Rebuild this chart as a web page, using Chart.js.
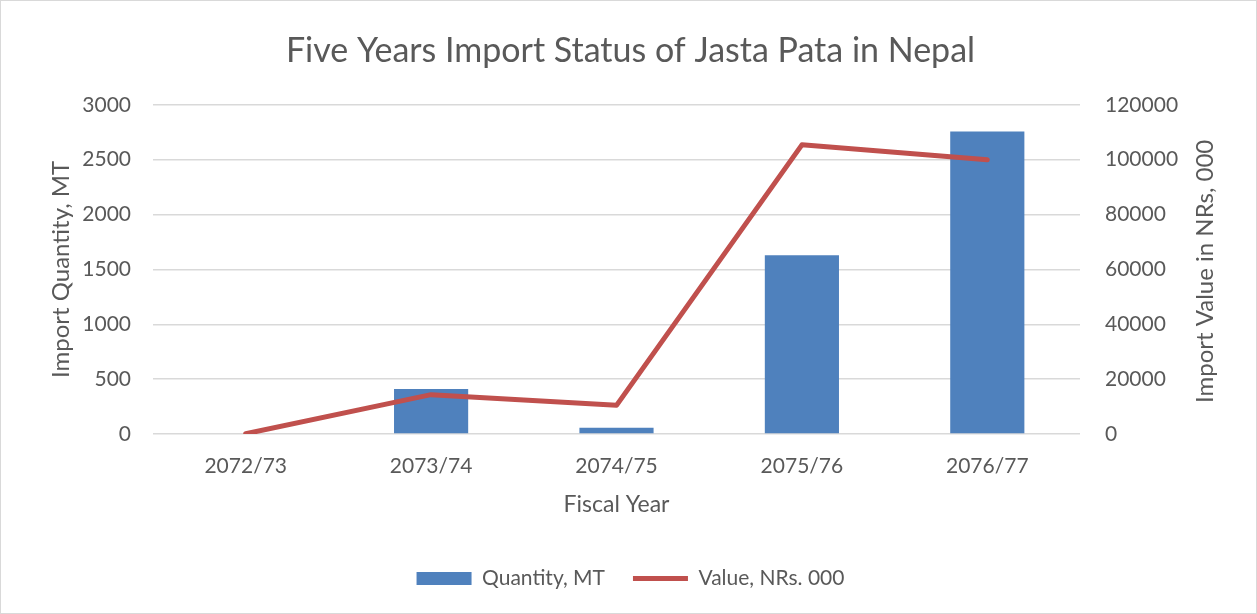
<!DOCTYPE html>
<html>
<head>
<meta charset="utf-8">
<script src="https://cdn.jsdelivr.net/npm/chart.js@4.4.1/dist/chart.umd.min.js"></script>
<style>
  body { margin: 0; background: #fff; }
  #frame { width: 1257px; height: 614px; box-sizing: border-box; border: 1px solid #d9d9d9; }
  canvas { display: block; }
</style>
</head>
<body>
<div id="frame"><canvas id="importChart" width="1255" height="612"></canvas></div>
<script>
// chart data
var fiscalYears = ['2072/73', '2073/74', '2074/75', '2075/76', '2076/77'];
var quantityMT = [0, 410, 58, 1630, 2757];
var valueNRs = [100, 14350, 10450, 105400, 99950];
var quantityTicks = [0, 500, 1000, 1500, 2000, 2500, 3000];
var valueTicks = [0, 20000, 40000, 60000, 80000, 100000, 120000];
var rightTitle = 'Import Value in NRs, 000';

var textColor = '#595959';
var fontFamily = 'Lato, "Open Sans", sans-serif';

// right axis title reads bottom-to-top, like the left one
var rightTitlePlugin = {
    id: 'rightTitle',
    afterDraw: function(chart) {
        var c = chart.ctx;
        var area = chart.chartArea;
        c.save();
        c.translate(1204, (area.top + area.bottom) / 2 + 2);
        c.rotate(-Math.PI / 2);
        c.font = '24px ' + fontFamily;
        c.fillStyle = textColor;
        c.textAlign = 'center';
        c.textBaseline = 'middle';
        c.fillText(rightTitle, 0, 0);
        c.restore();
    }
};

var ctx = document.getElementById('importChart').getContext('2d');

new Chart(ctx, {
    type: 'bar',
    data: {
        labels: fiscalYears,
        datasets: [{
            label: 'Quantity, MT',
            data: quantityMT,
            backgroundColor: '#4f81bd',
            yAxisID: 'y',
            order: 1,
            categoryPercentage: 1.0,
            barPercentage: 0.4,
            pointStyle: 'rect'
        }, {
            type: 'line',
            label: 'Value, NRs. 000',
            data: valueNRs,
            borderColor: '#c0504d',
            backgroundColor: '#c0504d',
            borderWidth: 5,
            borderCapStyle: 'round',
            borderJoinStyle: 'round',
            pointRadius: 0,
            tension: 0,
            yAxisID: 'y1',
            order: 0,
            pointStyle: 'line'
        }]
    },
    options: {
        responsive: false,
        animation: false,
        layout: {
            padding: { left: 30, right: 26, top: 10, bottom: 14 }
        },
        scales: {
            x: {
                grid: { display: false },
                border: { display: false },
                ticks: { color: textColor, font: { family: fontFamily, size: 21 }, padding: 12 },
                title: {
                    display: true,
                    text: 'Fiscal Year',
                    color: textColor,
                    font: { family: fontFamily, size: 23 },
                    padding: { top: 10, bottom: 22 }
                },
                afterFit: function(scale) { scale.height = 106; }
            },
            y: {
                position: 'left',
                min: 0,
                max: 3000,
                afterBuildTicks: function(scale) {
                    scale.ticks = quantityTicks.map(function(v) { return { value: v }; });
                },
                grid: { color: '#d9d9d9', lineWidth: 1.5, drawTicks: false },
                border: { display: false },
                ticks: {
                    color: textColor,
                    font: { family: fontFamily, size: 21 },
                    padding: 22,
                    callback: function(v) { return String(v); }
                },
                title: {
                    display: true,
                    text: 'Import Quantity, MT',
                    color: textColor,
                    font: { family: fontFamily, size: 24 },
                    padding: { top: 16, bottom: 0 }
                },
                afterFit: function(scale) { scale.width = 122; }
            },
            y1: {
                position: 'right',
                min: 0,
                max: 120000,
                afterBuildTicks: function(scale) {
                    scale.ticks = valueTicks.map(function(v) { return { value: v }; });
                },
                grid: { display: false, drawTicks: false },
                border: { display: false },
                ticks: {
                    color: textColor,
                    font: { family: fontFamily, size: 21 },
                    padding: 25,
                    callback: function(v) { return String(v); }
                },
                afterFit: function(scale) { scale.width = 150; }
            }
        },
        plugins: {
            title: {
                display: true,
                text: 'Five Years Import Status of Jasta Pata in Nepal',
                color: textColor,
                font: { family: fontFamily, size: 34, weight: 'normal' },
                padding: { top: 20, bottom: 33 }
            },
            legend: {
                position: 'bottom',
                reverse: true,
                labels: {
                    color: textColor,
                    font: { family: fontFamily, size: 21 },
                    usePointStyle: true,
                    pointStyleWidth: 55,
                    boxHeight: 13,
                    padding: 28
                }
            },
            tooltip: { enabled: false }
        }
    },
    plugins: [rightTitlePlugin]
});
</script>
</body>
</html>
